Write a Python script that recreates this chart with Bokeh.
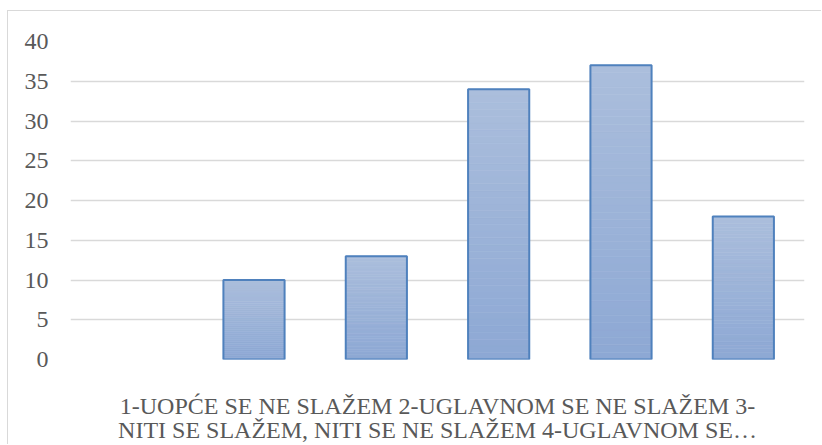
from bokeh.plotting import figure
from bokeh.models import Range1d, FixedTicker
from bokeh.embed import file_html
from bokeh.resources import INLINE

categories = ["1", "2", "3", "4", "5", "6"]
values = [0, 10, 13, 34, 37, 18]
y_ticks = [0, 5, 10, 15, 20, 25, 30, 35, 40]
axis_text = "1-UOPĆE SE NE SLAŽEM 2-UGLAVNOM SE NE SLAŽEM 3-\nNITI SE SLAŽEM, NITI SE NE SLAŽEM 4-UGLAVNOM SE…"

FONT = "Liberation Serif"
GRAY = "#595959"

p = figure(x_range=categories, y_range=Range1d(0, 40), width=814, height=434,
           output_backend="svg", toolbar_location=None,
           min_border_left=62, min_border_right=18, min_border_top=30, min_border_bottom=86)
p.styles = {"border-left": "1px solid #d9d9d9", "border-top": "1px solid #d9d9d9",
            "margin-left": "7px", "margin-top": "10px"}
p.outline_line_color = None
p.background_fill_color = "white"
p.border_fill_color = "white"

# gradient bars built from slices
N = 40
top_c = (0xab, 0xbe, 0xdc)
bot_c = (0x8d, 0xa8, 0xd4)
xs, bots, tops, cols = [], [], [], []
for c, v in zip(categories, values):
    if v <= 0:
        continue
    for k in range(N):
        t = (k + 0.5) / N
        col = tuple(int(round(bot_c[i] + (top_c[i] - bot_c[i]) * t)) for i in range(3))
        xs.append(c)
        bots.append(v * k / N)
        tops.append(v * (k + 1) / N)
        cols.append("#%02x%02x%02x" % col)
p.vbar(x=xs, bottom=bots, top=tops, width=0.5, fill_color=cols, line_color=cols, line_width=0.6)
nz_cats = [c for c, v in zip(categories, values) if v > 0]
nz_vals = [v for v in values if v > 0]
p.vbar(x=nz_cats, top=nz_vals, width=0.5, fill_color=None, line_color="#4f81bd", line_width=2)

p.xgrid.visible = False
p.ygrid.grid_line_color = "#d9d9d9"
p.ygrid.grid_line_width = 1.5

p.xaxis.ticker = FixedTicker(ticks=[])
p.xaxis.axis_line_color = None
p.xaxis.major_tick_line_color = None
p.xaxis.minor_tick_line_color = None
p.xaxis.major_tick_out = 0
p.xaxis.major_tick_in = 0
p.xaxis.major_label_standoff = 0
p.xaxis.axis_label = axis_text
p.xaxis.axis_label_text_font = FONT
p.xaxis.axis_label_text_font_size = "24px"
p.xaxis.axis_label_text_font_style = "normal"
p.xaxis.axis_label_text_color = GRAY
p.xaxis.axis_label_text_line_height = 0.94
p.xaxis.axis_label_standoff = 33

p.yaxis.ticker = FixedTicker(ticks=y_ticks)
p.yaxis.axis_line_color = None
p.yaxis.major_tick_line_color = None
p.yaxis.minor_tick_line_color = None
p.yaxis.major_tick_out = 0
p.yaxis.major_label_standoff = 22
p.yaxis.major_label_text_font = FONT
p.yaxis.major_label_text_font_size = "24px"
p.yaxis.major_label_text_color = GRAY

open("out.html", "w").write(file_html(p, INLINE))
